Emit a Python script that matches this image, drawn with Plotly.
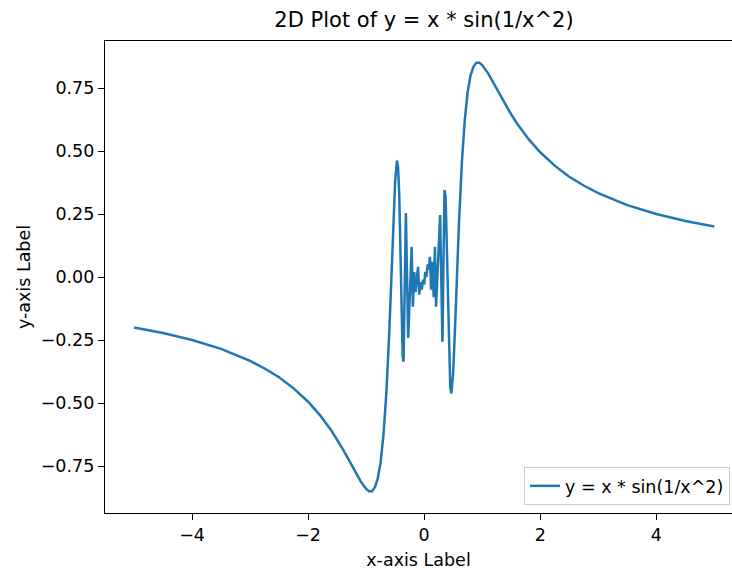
import plotly.graph_objects as go

# Values
x_left = [-5.0, -4.5, -4.0, -3.5, -3.0, -2.75, -2.5, -2.25, -2.0, -1.8, -1.6, -1.5, -1.4, -1.3,
          -1.2, -1.1, -1.0, -0.95, -0.9, -0.85, -0.8, -0.75, -0.7, -0.65, -0.6, -0.56, -0.53,
          -0.5, -0.47, -0.45, -0.43, -0.41, -0.39, -0.37, -0.355, -0.315, -0.275, -0.215, -0.195]
y_left = [-0.200, -0.222, -0.250, -0.285, -0.333, -0.363, -0.398, -0.442, -0.495, -0.547, -0.609,
          -0.645, -0.684, -0.725, -0.768, -0.809, -0.841, -0.850, -0.850, -0.835, -0.800, -0.734,
          -0.624, -0.455, -0.213, 0.026, 0.215, 0.378, 0.462, 0.438, 0.330, 0.135, -0.113, -0.316,
          -0.336, 0.254, -0.242, 0.120, -0.118]

x_center = [-0.17, -0.15, -0.105, -0.085, -0.06, -0.04, -0.02, 0.0, 0.02, 0.04, 0.06, 0.08,
            0.10, 0.12, 0.14, 0.165]
y_center = [0.02, -0.06, 0.04, -0.07, -0.02, -0.05, -0.01, -0.03, 0.02, 0.0, 0.05, 0.03,
            0.08, -0.05, 0.06, -0.08]

x_right = [0.185, 0.205, 0.275, 0.315, 0.35, 0.37, 0.39, 0.41, 0.43, 0.45, 0.47, 0.5, 0.53,
           0.56, 0.6, 0.65, 0.7, 0.75, 0.8, 0.85, 0.9, 0.95, 1.0, 1.1, 1.2, 1.3, 1.4, 1.5, 1.6,
           1.8, 2.0, 2.25, 2.5, 2.75, 3.0, 3.5, 4.0, 4.5, 5.0]
y_right = [0.120, -0.118, 0.246, -0.257, 0.345, 0.316, 0.113, -0.135, -0.330, -0.438, -0.462,
           -0.378, -0.215, -0.026, 0.213, 0.455, 0.624, 0.734, 0.800, 0.835, 0.850, 0.850, 0.841,
           0.809, 0.768, 0.725, 0.684, 0.645, 0.609, 0.547, 0.495, 0.442, 0.398, 0.363, 0.333,
           0.285, 0.250, 0.222, 0.200]

x_ticks = [-4, -2, 0, 2, 4]
y_ticks = [-0.75, -0.50, -0.25, 0.00, 0.25, 0.50, 0.75]

xs = x_left + x_center + x_right
ys = y_left + y_center + y_right

FONT = "DejaVu Sans"
FS = 17.5

fig = go.Figure()
fig.add_trace(go.Scatter(
    x=xs, y=ys, mode="lines", name="y = x * sin(1/x^2)",
    line=dict(color="#1f77b4", width=2.5),
))

axis_common = dict(
    showgrid=False, zeroline=False, showline=True, linecolor="black", linewidth=1.3,
    ticks="outside", ticklen=6, tickwidth=1.3, tickcolor="black",
    tickfont=dict(family=FONT, size=FS, color="black"), automargin=False,
)

fig.update_layout(
    width=732, height=570,
    margin=dict(l=105, r=0, t=41, b=57),
    paper_bgcolor="white", plot_bgcolor="white",
    font=dict(family=FONT, color="black"),
    title=dict(text="2D Plot of y = x * sin(1/x^2)", x=424 / 732, xanchor="center",
               y=1 - 20 / 570, yanchor="middle",
               font=dict(family=FONT, size=21, color="black")),
    xaxis=dict(range=[-5.5, 5.305], tickvals=x_ticks, mirror=True,
               title=dict(text="x-axis Label", font=dict(family=FONT, size=FS), standoff=10),
               **axis_common),
    yaxis=dict(range=[-0.9365, 0.9365], tickvals=y_ticks, tickformat=".2f", mirror=False,
               title=dict(text="y-axis Label", font=dict(family=FONT, size=FS), standoff=5),
               **axis_common),
    legend=dict(x=1 - 2 / 627, y=8 / 472, xanchor="right", yanchor="bottom",
                bgcolor="rgba(255,255,255,0.8)", bordercolor="#cccccc", borderwidth=1,
                font=dict(family=FONT, size=FS, color="black")),
    showlegend=True,
)

fig.write_html(
    "out.html",
    config={"displayModeBar": False},
    post_script="document.body.style.margin='0px';document.body.style.overflow='hidden';",
)
